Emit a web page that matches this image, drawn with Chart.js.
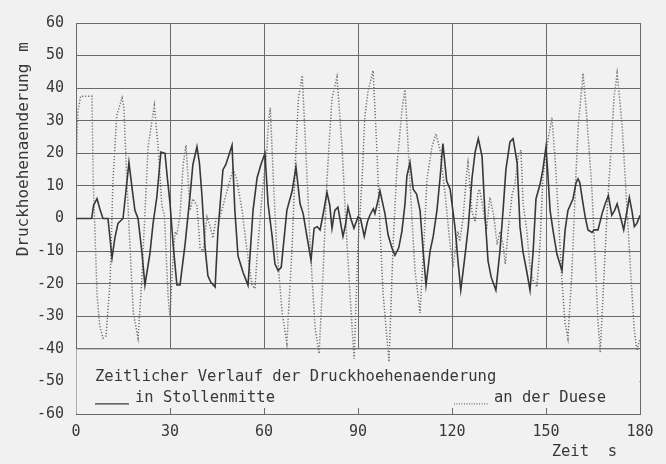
<!DOCTYPE html>
<html>
<head>
<meta charset="utf-8">
<script src="https://cdn.jsdelivr.net/npm/chart.js@4.4.0/dist/chart.umd.min.js"></script>
<style>
  html, body { margin: 0; padding: 0; background: #f1f1f1; }
  #wrap { width: 666px; height: 464px; }
</style>
</head>
<body>
<div id="wrap"><canvas id="chart" width="666" height="464"></canvas></div>
<script>
// Druckhoehenaenderung in Stollenmitte (solid)
const timeStollen = [0, 5, 5.6, 6.7, 7.6, 8.6, 10.2, 11.5, 12.4, 13.4, 15, 15.9, 16.9, 17.8, 18.8, 19.8, 21, 22, 23.6, 24.6, 25.8, 27.1, 28.4, 29.2, 30,
  31, 32.2, 33.2, 34.8, 36.4, 37.3, 38.6, 39.4, 40.2, 41.2, 42.1, 43, 44.4, 45.3, 46.9, 47.8, 49.8, 50.7, 51.7, 53.3, 54.9, 56.5, 57.8, 59, 60.3,
  61.3, 62.6, 63.5, 64.5, 65.5, 67.3, 69, 70.2, 71.5, 72.5, 73.7, 75, 76, 77, 77.9, 79, 80.1, 81, 81.7, 82.6, 83.6, 84.3, 85.2, 86, 86.8, 87.7, 88.7, 90,
  90.8, 92, 93, 93.8, 94.9, 95.4, 96.5, 97, 98.6, 99.6, 100.8, 101.8, 103, 104, 105, 105.6, 106.6, 107.6, 108.7, 109.8, 110.8, 111.7, 113, 114, 115.2, 116.2, 117.1, 118.3, 119.4,
  121, 122, 122.8, 124.2, 125.2, 126.4, 127.4, 128.4, 129.6, 130.6, 131.5, 132.5, 134, 135.3, 136.3, 137.2, 138.5, 139.5, 140.8, 141.7, 142.7, 143.9, 144.9, 145.9, 146.8, 148.1, 149, 150,
  150.6, 151.3, 152.3, 153.5, 155.1, 156.1, 157, 158.6, 159.6, 160.2, 160.8, 161.5, 162.5, 163.4, 164.7, 165.3, 166.6, 167.9, 168.9, 169.9, 171, 171.9, 172.7, 173.9, 174.8, 175.6, 176.6, 177.4, 178.2, 179, 180];
const valueStollen = [0, 0, 4, 6.1, 3, 0, 0, -12.1, -6, -1.5, 0, 8, 17.2, 10, 2.5, 0, -10, -20.4, -10.7, -1.5, 6.6, 20.4, 20, 12, 4.7,
  -8, -20.4, -20.4, -8, 7, 16.5, 22, 17, 7, -9, -17.6, -19.5, -21, -4, 15, 16.5, 22.5, 2.5, -11.5, -16.5, -20.5, 2.5, 12.5, 16.5, 20,
  4.5, -5.5, -14, -16, -15, 2.5, 8.5, 15.8, 4.5, 1.5, -5.5, -12.8, -3, -2.5, -3.5, 2, 8, 4, -3, 2.5, 3.5, -0.5, -5.5, -2, 3.5, 0, -3, 0.5,
  0, -5.5, -1, 1, 3, 1.5, 6, 8.5, 1.5, -5, -9, -11.3, -9, -4, 4.5, 13, 17.2, 9, 7.5, 2.5, -10, -20.5, -10, -5.5, 2.5, 12.5, 23, 11.5, 9,
  -3, -14, -22, -11, -2.5, 12.5, 20.5, 24.5, 19, 0, -13, -18, -22, -10, 2.5, 15, 23.5, 24.5, 17, -2.5, -10.5, -16.5, -22, -10, 6, 10.5, 15, 22,
  13.5, 2.5, -4, -11, -16, -3.5, 2.5, 6, 11, 12.2, 11, 6.5, 0.5, -3.5, -4.3, -3.5, -3.5, 1.5, 4.5, 7, 1, 2.5, 4.5, 0, -3.5, 1, 6.5, 2.5, -2.5, -1.5, 1];

// Druckhoehenaenderung an der Duese (dotted)
const timeDuese = [0, 0.6, 1.5, 5.1, 5.5, 6.7, 7.6, 8.6, 9.6, 10.9, 11.8, 13, 14.7, 15.3, 16.2, 17.2, 18.3, 19.8, 21, 22, 23, 25, 26.2, 27.4, 28.2, 29.4, 30,
  30.8, 31.6, 32.2, 33.2, 34.2, 35.1, 36.4, 37.3, 38.6, 39.6, 40.6, 41.8, 42.7, 43.7, 44.7, 45.8, 47.5, 49.2, 50.2, 51.3, 53, 54.6, 56.2, 57.1, 58.1, 59.4,
  60.9, 61.5, 62, 63, 64, 65.8, 67.3, 69, 70, 71, 72.2, 73.3, 74.7, 76.3, 77.6, 78.8, 80.1, 81.7, 83.3, 84.9, 86.5, 88.1, 88.8,
  90, 91.3, 92.2, 93.2, 94.8, 96, 97, 98, 99.9, 101.2, 102.5, 104, 105, 106, 107.2, 108.2, 109.8, 111, 112, 113.6, 114.9, 116.2, 117.8, 119.4,
  120.3, 121, 121.9, 122.5, 123.5, 124.8, 125.1, 126.4, 127.4, 128.3, 128.8, 130, 131, 132.1, 133.3, 134.4, 135.3, 136.3, 137, 138, 139.2, 140.1, 141.1, 142, 142.7, 143.9, 144.9, 145.9, 147.1, 148.1, 149,
  150.7, 151.9, 153, 154, 155, 156, 157, 158.2, 159.3, 160.3, 161.5, 161.8, 163, 164.7, 165.7, 166.6, 167.3, 168.2, 169.5, 170.8, 171.7, 172.7, 174.3, 175.9, 177.1, 178.1, 179, 180];
const valueDuese = [15, 33, 37.5, 37.5, 12, -23.5, -33, -36.7, -36, -19, 12, 31.6, 37, 34, 12, -8, -29, -36.7, -19, 1.5, 22, 34.7, 22, 4, 1, -24, -30.3,
  -15, -4, -5, 1, 16.5, 22.5, 2.5, 6, 4, -9, -10, 0.5, -2, -6, 0, 0, 6, 12, 15, 12, 2.5, -10, -20.5, -21.5, -8, 7.5,
  21, 30, 34, 12, -8, -29, -38.3, -8, 17, 37, 43.9, 22, -8, -33.5, -41.5, -17.6, 12, 37, 43.4, 22, -8, -33.5, -43,
  -8, 12, 31.5, 39, 45.4, 22, -2.5, -23, -44, -8, 17, 33, 40, 22, 0, -16, -29, -8, 12, 22, 26, 21, 7.5, -8,
  -15, -10, -4, -7, 0, 15, 17, 2, -1, 8, 9, 2.5, -3.5, 6.5, 1, -8, -4, -8, -14, -3, 7.5, 10.5, 19, 21, 4.5, -4, -15, -19, -21, -8, 12.5,
  24.5, 31, 17, 0, -17.6, -31.5, -36.8, -17.6, 8, 28.5, 41, 44.6, 31.5, 8, -12.5, -31.5, -41, -23.5, 2, 22, 37, 44.6, 28.5, 2, -17.6, -33.5, -40.5, -37];

const xTicks = [0, 30, 60, 90, 120, 150, 180];
const yTicks = [-60, -50, -40, -30, -20, -10, 0, 10, 20, 30, 40, 50, 60];
const legendTitle = 'Zeitlicher Verlauf der Druckhoehenaenderung';
const seriesNames = ['in Stollenmitte', 'an der Duese'];
const yTitle = 'Druckhoehenaenderung';
const yUnit = 'm';
const xTitle = 'Zeit  s';

const BG = '#f1f1f1';
const INK = '#383838';
const DOTS = '#6e6e6e';
const GRID = '#6a6a6a';
const MONO = '"DejaVu Sans Mono", "Liberation Mono", monospace';

function toPoints(ts, vs) {
  return ts.map((t, i) => ({ x: t, y: vs[i] }));
}

// legend box at the bottom of the plot, titles outside
const paperPlugin = {
  id: 'paper',
  beforeDatasetsDraw(chart) {
    const { ctx, chartArea: a, scales: { x, y } } = chart;
    const top = y.getPixelForValue(-40);
    ctx.save();
    ctx.fillStyle = BG;
    ctx.fillRect(a.left + 0.5, top, a.right - a.left - 1, a.bottom - top - 0.5);
    ctx.strokeStyle = GRID;
    ctx.lineWidth = 1;
    ctx.beginPath();
    ctx.moveTo(a.left, top); ctx.lineTo(a.right, top);
    xTicks.slice(1, -1).forEach(t => {
      const px = Math.round(x.getPixelForValue(t)) + 0.5;
      ctx.moveTo(px, a.bottom); ctx.lineTo(px, a.bottom - 6);
    });
    ctx.stroke();

    ctx.fillStyle = INK;
    ctx.font = '15.5px ' + MONO;
    ctx.textBaseline = 'middle';
    ctx.textAlign = 'left';
    ctx.fillText(legendTitle, a.left + 19, top + 28);
    ctx.fillText(seriesNames[0], a.left + 59, top + 49);
    ctx.fillText(seriesNames[1], a.left + 418, top + 49);
    // line samples
    ctx.strokeStyle = INK;
    ctx.lineWidth = 1.4;
    ctx.beginPath();
    ctx.moveTo(a.left + 19, top + 55); ctx.lineTo(a.left + 53, top + 55);
    ctx.stroke();
    ctx.strokeStyle = DOTS;
    ctx.lineWidth = 1.3;
    ctx.setLineDash([1, 1.5]);
    ctx.beginPath();
    ctx.moveTo(a.left + 378, top + 55); ctx.lineTo(a.left + 413, top + 55);
    ctx.stroke();
    ctx.restore();
  },
  afterDraw(chart) {
    const { ctx, chartArea: a } = chart;
    ctx.save();
    ctx.fillStyle = INK;
    ctx.font = '16px ' + MONO;
    ctx.textBaseline = 'middle';
    ctx.translate(24, 160);
    ctx.rotate(-Math.PI / 2);
    ctx.textAlign = 'center';
    ctx.fillText(yTitle, 0, 0);
    ctx.fillText(yUnit, 113, 0);
    ctx.restore();
    ctx.save();
    ctx.fillStyle = INK;
    ctx.font = '15.5px ' + MONO;
    ctx.textBaseline = 'middle';
    ctx.textAlign = 'right';
    ctx.fillText(xTitle, a.right - 23, 452);
    ctx.restore();
  }
};

new Chart(document.getElementById('chart'), {
  type: 'line',
  data: {
    datasets: [
      {
        label: seriesNames[0],
        data: toPoints(timeStollen, valueStollen),
        borderColor: INK,
        borderWidth: 1.6,
        pointRadius: 0,
        tension: 0
      },
      {
        label: seriesNames[1],
        data: toPoints(timeDuese, valueDuese),
        borderColor: DOTS,
        borderWidth: 1.5,
        borderDash: [1.2, 1.8],
        pointRadius: 0,
        tension: 0
      }
    ]
  },
  options: {
    responsive: false,
    animation: false,
    layout: { padding: { left: 0, right: 26, top: 23, bottom: 0 } },
    plugins: { legend: { display: false }, tooltip: { enabled: false } },
    scales: {
      x: {
        type: 'linear',
        min: 0, max: 180,
        afterBuildTicks: s => { s.ticks = xTicks.map(v => ({ value: v })); },
        afterFit: s => { s.height = 50; },
        grid: { color: GRID, lineWidth: 1, drawTicks: false },
        border: { color: GRID },
        ticks: { color: INK, padding: 9, font: { family: MONO, size: 15 } }
      },
      y: {
        min: -60, max: 60,
        afterBuildTicks: s => { s.ticks = yTicks.map(v => ({ value: v })); },
        afterFit: s => { s.width = 76; },
        grid: { color: GRID, lineWidth: 1, drawTicks: false },
        border: { color: GRID },
        ticks: { color: INK, padding: 12, font: { family: MONO, size: 15 } }
      }
    }
  },
  plugins: [paperPlugin]
});
</script>
</body>
</html>
